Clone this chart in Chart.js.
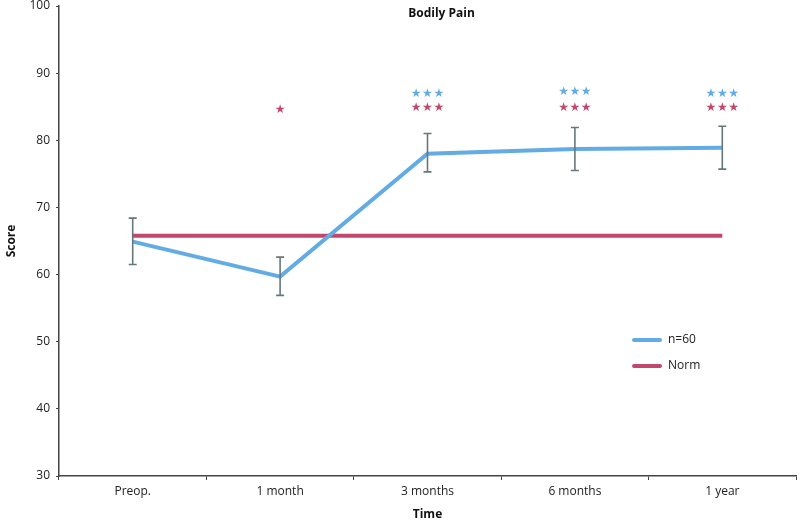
<!DOCTYPE html>
<html lang="en">
<head>
    <meta charset="UTF-8">
    <title>Bodily Pain</title>
    <script src="https://cdn.jsdelivr.net/npm/chart.js"></script>
    <style>
        html, body { margin: 0; padding: 0; background: #fff; }
        #wrap { width: 800px; height: 526px; }
    </style>
</head>
<body>
    <div id="wrap"><canvas id="painChart" width="800" height="526"></canvas></div>

    <script>
        // Data
        const timepoints = ['Preop.', '1 month', '3 months', '6 months', '1 year'];
        const groupMean = [64.9, 59.7, 78.0, 78.7, 78.9];
        const groupLow = [61.5, 56.9, 75.3, 75.5, 75.7];
        const groupHigh = [68.4, 62.6, 81.0, 81.9, 82.1];
        const normValues = [65.8, 65.8, 65.8, 65.8, 65.8];
        // significance stars: count and height (score units) per timepoint
        const groupStars = [0, 0, 3, 3, 3];
        const groupStarY = [null, null, 87.0, 87.2, 87.0];
        const normStars = [0, 1, 3, 3, 3];
        const normStarY = [null, 84.6, 84.8, 84.9, 84.8];
        const yTicks = [30, 40, 50, 60, 70, 80, 90, 100];

        const blue = '#62ace3';
        const pink = '#c2476d';
        const errColor = '#66787a';
        const font = "'Open Sans', 'DejaVu Sans', sans-serif";

        // error bars, stars, title and legend drawn on top
        const extras = {
            id: 'extras',
            afterDatasetsDraw(chart) {
                const { ctx, scales: { x, y }, chartArea } = chart;
                ctx.save();

                // error bars for the n=60 series
                ctx.strokeStyle = errColor;
                ctx.lineWidth = 1.6;
                timepoints.forEach((t, i) => {
                    const px = x.getPixelForValue(i);
                    const top = y.getPixelForValue(groupHigh[i]);
                    const bot = y.getPixelForValue(groupLow[i]);
                    ctx.beginPath();
                    ctx.moveTo(px, top); ctx.lineTo(px, bot);
                    ctx.moveTo(px - 4, top); ctx.lineTo(px + 4, top);
                    ctx.moveTo(px - 4, bot); ctx.lineTo(px + 4, bot);
                    ctx.stroke();
                });

                // stars
                ctx.font = '12px ' + font;
                ctx.textAlign = 'center';
                ctx.textBaseline = 'middle';
                const drawStars = (counts, ys, color) => {
                    ctx.fillStyle = color;
                    counts.forEach((n, i) => {
                        if (!n) return;
                        const px = x.getPixelForValue(i);
                        const py = y.getPixelForValue(ys[i]);
                        for (let k = 0; k < n; k++) {
                            ctx.fillText('\u2605', px + (k - (n - 1) / 2) * 11.3, py);
                        }
                    });
                };
                drawStars(groupStars, groupStarY, blue);
                drawStars(normStars, normStarY, pink);

                // title
                ctx.fillStyle = '#111';
                ctx.font = 'bold 12px ' + font;
                ctx.fillText('Bodily Pain', (chartArea.left + chartArea.right) / 2 + 14, chartArea.top + 8);

                // legend
                ctx.font = '12px ' + font;
                ctx.textAlign = 'left';
                ctx.lineWidth = 4;
                ctx.lineCap = 'round';
                chart.data.datasets.forEach((ds, i) => {
                    const ly = 340 + i * 26;
                    ctx.strokeStyle = ds.borderColor;
                    ctx.beginPath();
                    ctx.moveTo(634, ly); ctx.lineTo(660, ly);
                    ctx.stroke();
                    ctx.fillStyle = '#222';
                    ctx.fillText(ds.label, 668, ly);
                });
                ctx.restore();
            }
        };

        const ctx = document.getElementById('painChart').getContext('2d');
        const painChart = new Chart(ctx, {
            type: 'line',
            data: {
                labels: timepoints,
                datasets: [
                    {
                        label: 'n=60',
                        data: groupMean,
                        borderColor: blue,
                        borderWidth: 4,
                        pointRadius: 0,
                        tension: 0,
                        order: 1
                    },
                    {
                        label: 'Norm',
                        data: normValues,
                        borderColor: pink,
                        borderWidth: 4,
                        pointRadius: 0,
                        tension: 0,
                        order: 2
                    }
                ]
            },
            options: {
                responsive: false,
                animation: false,
                layout: { padding: { top: 6, right: 4, left: 0, bottom: 0 } },
                plugins: {
                    legend: { display: false },
                    tooltip: { enabled: false }
                },
                scales: {
                    x: {
                        offset: true,
                        grid: {
                            offset: true,
                            drawOnChartArea: false,
                            color: '#444',
                            tickLength: 4
                        },
                        border: { color: '#444', width: 1.5 },
                        ticks: { color: '#222', font: { family: font, size: 12 }, padding: 4 },
                        title: {
                            display: true,
                            text: 'Time',
                            color: '#111',
                            font: { family: font, size: 12, weight: 'bold' },
                            padding: { top: 8 }
                        },
                        afterFit(scale) { scale.height = 50; }
                    },
                    y: {
                        min: 30,
                        max: 100,
                        afterBuildTicks(scale) { scale.ticks = yTicks.map(v => ({ value: v })); },
                        grid: {
                            drawOnChartArea: false,
                            color: '#444',
                            tickLength: 3
                        },
                        border: { color: '#444', width: 1.5 },
                        ticks: { color: '#222', font: { family: font, size: 12 }, padding: 6 },
                        title: {
                            display: true,
                            text: 'Score',
                            color: '#111',
                            font: { family: font, size: 12, weight: 'bold' },
                            padding: { bottom: 0 }
                        },
                        afterFit(scale) {
                            scale.width = 59;
                            scale.paddingTop = 0;
                            scale.paddingBottom = 0;
                        }
                    }
                }
            },
            plugins: [extras]
        });
    </script>
</body>
</html>
